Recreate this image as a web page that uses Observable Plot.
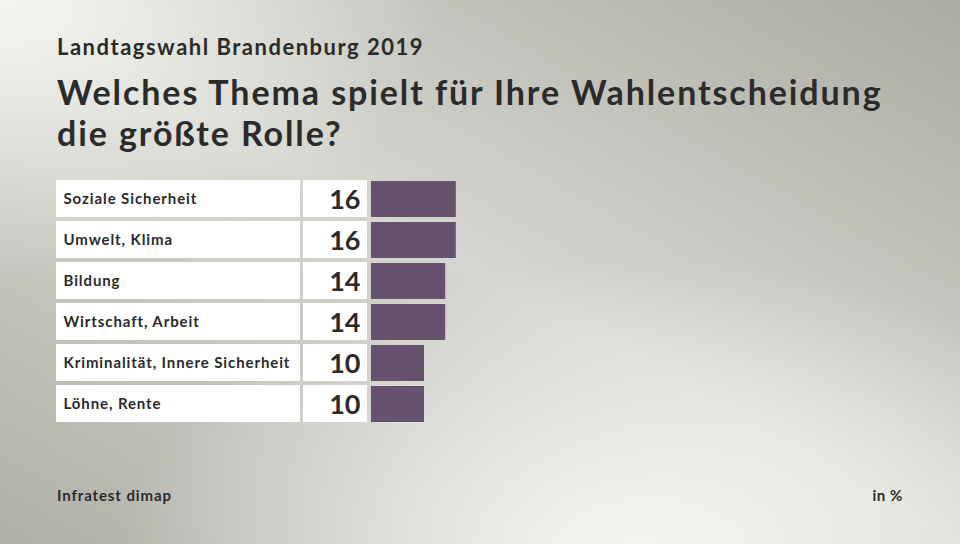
<!DOCTYPE html>
<html>
<head>
<meta charset="utf-8">
<script src="https://cdn.jsdelivr.net/npm/d3@7"></script>
<script src="https://cdn.jsdelivr.net/npm/@observablehq/plot@0.6"></script>
<style>
  html, body { margin: 0; padding: 0; }
  #wrap {
    position: relative; width: 960px; height: 544px; overflow: hidden;
    font-family: Lato, "Open Sans", sans-serif; color: #2b2b2b;
    background:
      radial-gradient(ellipse 520px 300px at 640px 560px, rgba(246,247,242,1) 0%, rgba(246,247,242,0.6) 45%, rgba(246,247,242,0) 100%),
      radial-gradient(ellipse 440px 280px at 0px 0px, rgba(244,244,240,1) 0%, rgba(244,244,240,0.5) 50%, rgba(244,244,240,0) 100%),
      linear-gradient(to bottom left, #ababa3 0%, #d6d6d0 50%, #b0b0a8 100%);
  }
  #sub { position: absolute; left: 57px; top: 33px; font-size: 22px; font-weight: 700; letter-spacing: 1.5px; }
  #title { position: absolute; left: 57px; top: 71px; font-size: 34px; font-weight: 700; line-height: 41px; letter-spacing: 1.9px; }
  #chart { position: absolute; left: 0; top: 156px; }
  #src { position: absolute; left: 57px; top: 486px; font-size: 15px; font-weight: 700; letter-spacing: 0.9px; }
  #unit { position: absolute; right: 57px; top: 486px; font-size: 15px; font-weight: 700; letter-spacing: 0.6px; }
</style>
</head>
<body>
<div id="wrap">
  <div id="sub">Landtagswahl Brandenburg 2019</div>
  <div id="title"><div>Welches Thema spielt für Ihre Wahlentscheidung</div><div>die größte Rolle?</div></div>
  <div id="chart"></div>
  <div id="src">Infratest dimap</div>
  <div id="unit">in %</div>
</div>
<script>
const categories = ["Soziale Sicherheit", "Umwelt, Klima", "Bildung", "Wirtschaft, Arbeit", "Kriminalität, Innere Sicherheit", "Löhne, Rente"];
const values = [16, 16, 14, 14, 10, 10];

const data = categories.map((c, i) => ({category: c, value: values[i]}));
const maxV = d3.max(values);

const chart = Plot.plot({
  width: 960,
  height: 280,
  margin: 0,
  style: {background: "transparent", fontFamily: "Lato, 'Open Sans', sans-serif"},
  x: {domain: [0, maxV], range: [371, 371 + 5.3 * maxV], axis: null},
  y: {domain: categories, range: [21, 269], paddingInner: 0.095, paddingOuter: 0, axis: null},
  marks: [
    Plot.rect(data, {y: "category", fill: "#ffffff", insetLeft: 56, insetRight: 660}),
    Plot.rect(data, {y: "category", fill: "#ffffff", insetLeft: 303, insetRight: 593}),
    Plot.barX(data, {y: "category", x: "value", fill: "#66526e", insetTop: 1}),
    Plot.text(data, {y: "category", text: "category", frameAnchor: "left", dx: 63, textAnchor: "start", fill: "#2b2b2b", fontSize: 15, fontWeight: 700}),
    Plot.text(data, {y: "category", text: d => String(d.value), frameAnchor: "left", dx: 360, textAnchor: "end", fill: "#2b2b2b", fontSize: 27, fontWeight: 700, dy: 1})
  ]
});
chart.querySelectorAll("g[aria-label=text]")[0]?.setAttribute("letter-spacing", "0.9");
document.getElementById("chart").appendChild(chart);
</script>
</body>
</html>
